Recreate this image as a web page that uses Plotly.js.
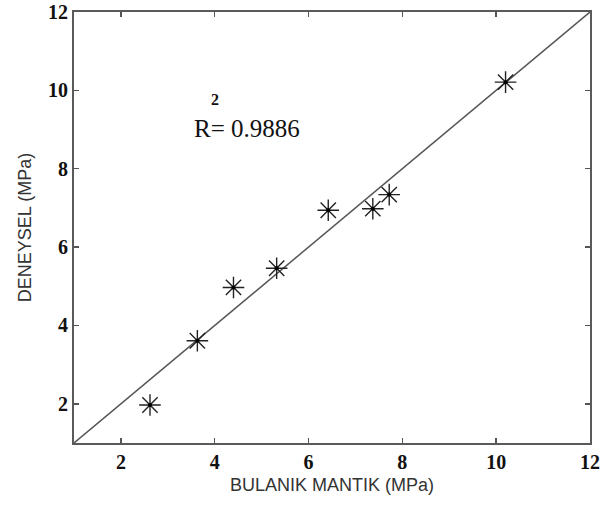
<!DOCTYPE html>
<html><head><meta charset="utf-8">
<script src="https://cdn.plot.ly/plotly-3.0.1.min.js"></script>
<style>html,body{margin:0;padding:0;background:#fff}#chart{width:600px;height:506px}</style>
</head><body><div id="chart"></div>
<script>
const bulanik = [2.62, 3.63, 4.40, 5.32, 6.42, 7.37, 7.72, 10.20];
const deneysel = [1.97, 3.61, 4.97, 5.46, 6.94, 6.98, 7.34, 10.21];
const fitX = [1, 12];
const fitY = [1, 12];
const tickVals = [2, 4, 6, 8, 10, 12];
const r2Text = "R= 0.9886";

function axisBase() {
  return {
    range: [1, 12], tickmode: 'array', tickvals: tickVals, ticktext: tickVals.map(v => '<b>' + v + '</b>'),
    ticks: 'inside', ticklen: 5, tickwidth: 1.5, tickcolor: '#555',
    showline: true, linecolor: '#5a5a5a', linewidth: 2, mirror: 'ticks',
    showgrid: false, zeroline: false,
    tickfont: {family: 'Liberation Serif', size: 20, color: '#111'}
  };
}

const data = [
  {x: fitX, y: fitY, mode: 'lines', line: {color: '#555', width: 1.5}, hoverinfo: 'skip'},
  {x: bulanik, y: deneysel, mode: 'markers',
   marker: {symbol: 'asterisk-open', size: 18, color: '#222', line: {color: '#222', width: 1.4}}},
  {x: bulanik, y: deneysel, mode: 'markers',
   marker: {symbol: 'circle', size: 4, color: '#000'}}
];

const titleFont = {family: 'Liberation Sans', size: 18, color: '#333'};

const layout = {
  width: 600, height: 506,
  margin: {l: 74, r: 10, t: 12, b: 63},
  paper_bgcolor: '#fff', plot_bgcolor: '#fff',
  showlegend: false,
  xaxis: Object.assign(axisBase(), {
    title: {text: 'BULANIK MANTIK (MPa)', font: titleFont, standoff: 6}
  }),
  yaxis: Object.assign(axisBase(), {
    title: {text: 'DENEYSEL (MPa)', font: titleFont, standoff: 12}
  }),
  annotations: [
    {x: 4.69, y: 9.03, xref: 'x', yref: 'y', text: r2Text, showarrow: false,
     font: {family: 'Liberation Serif', size: 25, color: '#111'}},
    {x: 4.0, y: 9.58, xref: 'x', yref: 'y', yanchor: 'bottom', yshift: -3, text: '<b>2</b>', showarrow: false,
     font: {family: 'Liberation Serif', size: 16, color: '#111'}}
  ]
};

Plotly.newPlot('chart', data, layout, {displayModeBar: false, staticPlot: true});
</script></body></html>
